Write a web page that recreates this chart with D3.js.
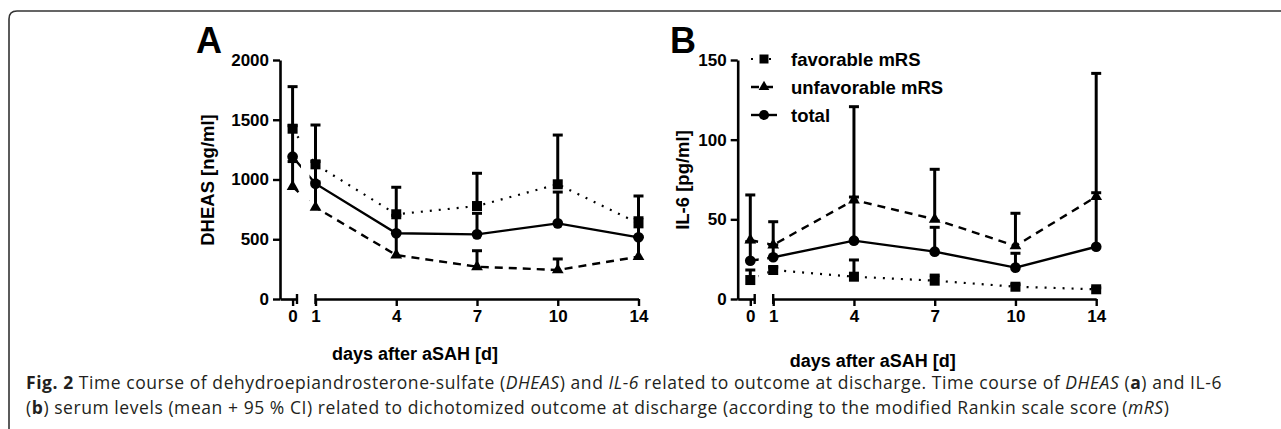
<!DOCTYPE html>
<html>
<head>
<meta charset="utf-8">
<script src="https://cdn.jsdelivr.net/npm/d3@7"></script>
<style>
  body { margin: 0; background: #fff; }
</style>
</head>
<body>
<svg id="fig" width="1281" height="429"></svg>
<script>
// values
var days = [0, 1, 4, 7, 10, 14];
var dheasTicks = [0, 500, 1000, 1500, 2000];
var il6Ticks = [0, 50, 100, 150];

var dheasFav = [1425, 1127, 709, 778, 960, 633];
var dheasFavCI = [1777, 1456, 935, 1052, 1372, 862];
var dheasUnfav = [940, 767, 368, 270, 243, 354];
var dheasUnfavCI = [1150, 980, 560, 404, 335, 520];
var dheasTotal = [1191, 965, 550, 541, 633, 516];
var dheasTotalCI = [1450, 1150, 700, 717, 895, 680];

var il6Fav = [11.9, 18.2, 14, 11.5, 7.7, 6.1];
var il6FavCI = [18.2, 20, 24.5, 15, 9, 7];
var il6Unfav = [37, 33.9, 62.1, 50, 33.3, 64.2];
var il6UnfavCI = [65.3, 48.5, 120.7, 81.4, 53.8, 141.6];
var il6Total = [24, 26.2, 36.6, 29.7, 19.7, 32.8];
var il6TotalCI = [36, 34, 64, 45, 28.7, 66.7];

var seriesNames = ["favorable mRS", "unfavorable mRS", "total"];

var ARIAL = "'Liberation Sans', Arial, Helvetica, sans-serif";
var svg = d3.select("#fig");

// frame
svg.append("path")
    .attr("d", "M9,440 L9,19 Q9,11 17,11 L1290,11")
    .attr("fill", "none")
    .attr("stroke", "#333")
    .attr("stroke-width", 1.6);

var styles = {
    fav: {dash: "2,7", width: 2.2, sym: "square"},
    unfav: {dash: "8,6", width: 2.4, sym: "triangle"},
    total: {dash: null, width: 2.4, sym: "circle"}
};

function symbolPath(kind, size) {
    var t = kind === "square" ? d3.symbolSquare : kind === "triangle" ? d3.symbolTriangle : d3.symbolCircle;
    return d3.symbol().type(t).size(size)();
}

function styleAxis(a) {
    a.attr("font-family", null);
    a.select(".domain").attr("stroke-width", 2.6);
    a.selectAll(".tick line").attr("stroke-width", 2.4);
    a.selectAll("text")
        .style("font-family", ARIAL)
        .attr("font-size", 17).attr("font-weight", "bold").attr("fill", "#000");
}

function drawPanel(opt) {
    var ox = opt.ox, top = 60, bottom = 299;
    var g = svg.append("g");

    var y = d3.scaleLinear().domain([0, opt.ymax]).range([bottom, top]);
    var x0 = d3.scaleLinear().domain([-1, 0.35]).range([ox, ox + 17]);
    var xp = d3.scalePoint().domain(days.slice(1)).range([ox + 35.5, ox + 358.5]);
    var x = function(d) { return d === 0 ? x0(0) : xp(d); };

    // y axis
    var ya = g.append("g")
        .attr("transform", "translate(" + ox + ",0)")
        .call(d3.axisLeft(y).tickValues(opt.ticks).tickFormat(d3.format("d"))
            .tickSize(7).tickPadding(4).tickSizeOuter(0));
    styleAxis(ya);

    // x axis, broken in two pieces
    var xa0 = g.append("g")
        .attr("transform", "translate(0," + bottom + ")")
        .call(d3.axisBottom(x0).tickValues([0]).tickFormat(d3.format("d"))
            .tickSize(7).tickPadding(4).tickSizeOuter(0));
    var xa1 = g.append("g")
        .attr("transform", "translate(0," + bottom + ")")
        .call(d3.axisBottom(xp).tickSize(7).tickPadding(4).tickSizeOuter(0));
    styleAxis(xa0);
    styleAxis(xa1);
    // break marks
    [x0.range()[1], xp.range()[0]].forEach(function(bx) {
        g.append("line")
            .attr("x1", bx).attr("x2", bx)
            .attr("y1", bottom - 5).attr("y2", bottom + 5)
            .attr("stroke", "#000").attr("stroke-width", 2.4);
    });

    // titles
    g.append("text")
        .attr("transform", "translate(" + opt.ytx + "," + 180 + ") rotate(-90)")
        .attr("text-anchor", "middle")
        .style("font-family", ARIAL)
        .attr("font-size", 18.5).attr("font-weight", "bold")
        .text(opt.ytitle);
    g.append("text")
        .attr("x", ox + 135).attr("y", opt.xty)
        .attr("text-anchor", "middle")
        .style("font-family", ARIAL)
        .attr("font-size", 18).attr("font-weight", "bold")
        .text("days after aSAH [d]");
    g.append("text")
        .attr("x", opt.lx).attr("y", 53)
        .style("font-family", ARIAL)
        .attr("font-size", 36).attr("font-weight", "bold")
        .text(opt.letter);

    var series = [
        {k: "fav", m: opt.fav, ci: opt.favCI},
        {k: "unfav", m: opt.unfav, ci: opt.unfavCI},
        {k: "total", m: opt.total, ci: opt.totalCI}
    ];

    // error bars (upper only)
    series.forEach(function(s) {
        var eb = g.append("g");
        days.forEach(function(d, i) {
            eb.append("line")
                .attr("x1", x(d)).attr("x2", x(d))
                .attr("y1", y(s.m[i])).attr("y2", y(s.ci[i]))
                .attr("stroke", "#000").attr("stroke-width", 3);
            eb.append("line")
                .attr("x1", x(d) - 5).attr("x2", x(d) + 5)
                .attr("y1", y(s.ci[i])).attr("y2", y(s.ci[i]))
                .attr("stroke", "#000").attr("stroke-width", 3);
        });
    });

    // clip lines in the axis gap
    var cid = "clip" + opt.letter;
    var cp = svg.append("clipPath").attr("id", cid);
    cp.append("rect").attr("x", 0).attr("y", 0).attr("width", x0.range()[1] + 4).attr("height", 429);
    cp.append("rect").attr("x", xp.range()[0] - 6).attr("y", 0).attr("width", 1281).attr("height", 429);

    var line = d3.line().x(function(d) { return x(d[0]); }).y(function(d) { return y(d[1]); });
    series.forEach(function(s) {
        var st = styles[s.k];
        g.append("path")
            .datum(days.map(function(d, i) { return [d, s.m[i]]; }))
            .attr("clip-path", "url(#" + cid + ")")
            .attr("d", line)
            .attr("fill", "none")
            .attr("stroke", "#000")
            .attr("stroke-width", st.width)
            .attr("stroke-dasharray", st.dash);
    });

    series.forEach(function(s) {
        var st = styles[s.k];
        g.selectAll(null)
            .data(days.map(function(d, i) { return [d, s.m[i]]; }))
            .enter().append("path")
            .attr("transform", function(d) { return "translate(" + x(d[0]) + "," + y(d[1]) + ")"; })
            .attr("d", symbolPath(st.sym, st.sym === "triangle" ? 60 : st.sym === "square" ? 100 : 90))
            .attr("fill", "#000");
    });
}

drawPanel({
    ox: 280, ymax: 2000, ticks: dheasTicks, ytitle: "DHEAS [ng/ml]", ytx: 214,
    xty: 360, lx: 196, letter: "A",
    fav: dheasFav, favCI: dheasFavCI, unfav: dheasUnfav, unfavCI: dheasUnfavCI,
    total: dheasTotal, totalCI: dheasTotalCI
});
drawPanel({
    ox: 737.7, ymax: 150, ticks: il6Ticks, ytitle: "IL-6 [pg/ml]", ytx: 689,
    xty: 367, lx: 670, letter: "B",
    fav: il6Fav, favCI: il6FavCI, unfav: il6Unfav, unfavCI: il6UnfavCI,
    total: il6Total, totalCI: il6TotalCI
});

// legend
var legend = svg.append("g");
var legendKeys = ["fav", "unfav", "total"];
legendKeys.forEach(function(k, i) {
    var st = styles[k];
    var ly = 59 + i * 28;
    legend.append("line")
        .attr("x1", 751).attr("x2", 777).attr("y1", ly).attr("y2", ly)
        .attr("stroke", "#000").attr("stroke-width", st.width)
        .attr("stroke-dasharray", st.dash);
    legend.append("path")
        .attr("transform", "translate(764," + ly + ")")
        .attr("d", symbolPath(st.sym, st.sym === "triangle" ? 50 : st.sym === "square" ? 81 : 80))
        .attr("fill", "#000");
    legend.append("text")
        .attr("x", 791).attr("y", ly + 6.5)
        .style("font-family", ARIAL)
        .attr("font-size", 18.5).attr("font-weight", "bold")
        .text(seriesNames[i]);
});

// caption
var capLines = [
    [["Fig. 2", "b"], [" Time course of dehydroepiandrosterone-sulfate (", ""], ["DHEAS", "i"], [") and ", ""], ["IL-6", "i"],
     [" related to outcome at discharge. Time course of ", ""], ["DHEAS", "i"], [" (", ""], ["a", "b"], [") and IL-6", ""]],
    [["(", ""], ["b", "b"], [") serum levels (mean + 95 % CI) related to dichotomized outcome at discharge (according to the modified Rankin scale score (", ""],
     ["mRS", "i"], [")", ""]]
];
var capX = 26, capEnd = 1222;
var cap = svg.append("g");
var capTexts = capLines.map(function(parts, li) {
    var t = cap.append("text")
        .attr("x", capX).attr("y", 389 + li * 25)
        .attr("font-size", 17.5)
        .attr("fill", "#231f20")
        .style("font-family", "'Open Sans', sans-serif");
    parts.forEach(function(p) {
        t.append("tspan")
            .attr("font-weight", p[1] === "b" ? "bold" : null)
            .attr("font-style", p[1] === "i" ? "italic" : null)
            .text(p[0]);
    });
    return t;
});
// first line sets the spacing, second line follows it
var first = capTexts[0];
var ls = (capEnd - capX - first.node().getComputedTextLength()) / first.text().length;
capTexts.forEach(function(t) { t.style("letter-spacing", ls + "px"); });
</script>
</body>
</html>
